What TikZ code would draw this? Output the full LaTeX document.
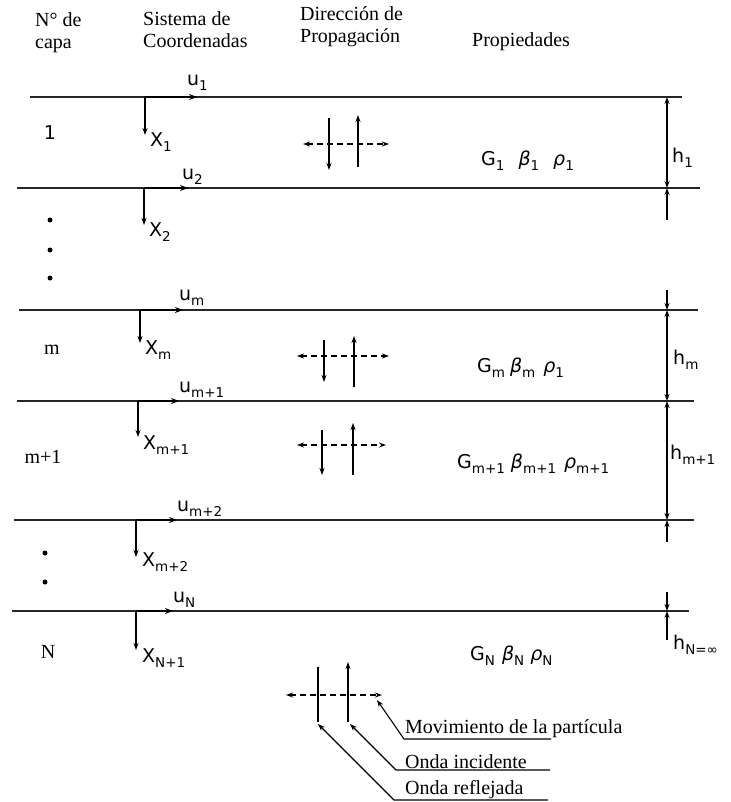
\documentclass[tikz,border=0pt]{standalone}
\usepackage{fontspec}
\setmainfont{Liberation Serif}
\setsansfont{DejaVu Sans}
\usetikzlibrary{arrows.meta}
\newcommand\sublab[2]{#1\raisebox{-0.5ex}{\fontsize{13.5}{13.5}\selectfont #2}}
\tikzset{
  tip/.tip={Stealth[length=7pt,width=5pt]},
  layer/.style={line width=1.7pt, draw=black!85},
  xaxis/.style={line width=1.4pt, -tip},
  uaxis/.style={line width=2.4pt, -{Stealth[length=8pt,width=6pt]}},
  dimarr/.style={line width=1.4pt, tip-tip},
  tickarr/.style={line width=1.4pt, -tip},
  lbl/.style={font=\sffamily\fontsize{19}{22}\selectfont, inner sep=0pt},
  ser/.style={font=\fontsize{20}{22}\selectfont, inner sep=0pt, align=left},
  dashh/.style={line width=1.3pt, dash pattern=on 6pt off 4pt, tip-tip},
  vline/.style={line width=1.3pt, -tip},
  leader/.style={line width=1.1pt, {Stealth[length=7pt,width=5pt]}-}
}
\begin{document}
\begin{tikzpicture}[x=1pt,y=-1pt]
\useasboundingbox (0,0) rectangle (730,802);
% headers
\node[ser,anchor=west] (hcapa) at (35,33) {N° de\\capa};
\node[ser,anchor=west] (hsis) at (143,30) {Sistema de\\Coordenadas};
\node[ser,anchor=west] (hdir) at (300,27) {Dirección de\\Propagación};
\node[ser,anchor=west] (hprop) at (472,42) {Propiedades};
% layer lines
\draw[layer] (30,97) -- (682,97);
\draw[layer] (17,188) -- (700,188);
\draw[layer] (19,310) -- (698,310);
\draw[layer] (17,401) -- (694,401);
\draw[layer] (14,520) -- (694,520);
\draw[layer] (12,611) -- (689,611);
% axes
\foreach \x/\y/\xe/\yd in {145/97/197/135, 144/188/188/225, 140/310/183/343, 138/401/179/437, 136/520/177/557, 136/611/173/650}{
  \draw[uaxis] (\x,\y) -- (\xe,\y);
  \draw[xaxis] (\x,\y) -- (\x,\yd);
}
\node[lbl,anchor=west] (u1) at (187,83) {\sublab{u}{1}};
\node[lbl,anchor=west] (u2) at (182,177) {\sublab{u}{2}};
\node[lbl,anchor=west] (um) at (179,298) {\sublab{u}{m}};
\node[lbl,anchor=west] (um1) at (179,390) {\sublab{u}{m+1}};
\node[lbl,anchor=west] (um2) at (177,509) {\sublab{u}{m+2}};
\node[lbl,anchor=west] (uN) at (173,600) {\sublab{u}{N}};
\node[lbl,anchor=west] (x1) at (150,142) {\sublab{X}{1}};
\node[lbl,anchor=west] (x2) at (149,232) {\sublab{X}{2}};
\node[lbl,anchor=west] (xm) at (145,350) {\sublab{X}{m}};
\node[lbl,anchor=west] (xm1) at (143,445) {\sublab{X}{m+1}};
\node[lbl,anchor=west] (xm2) at (142,562) {\sublab{X}{m+2}};
\node[lbl,anchor=west] (xN) at (142,658) {\sublab{X}{N+1}};
% layer numbers
\node[lbl] (n1) at (50,133) {1};
\node[ser] (nm) at (52,350) {m};
\node[ser] (nm1) at (43,457) {m+1};
\node[ser] (nN) at (48,652) {N};
\foreach \x/\y in {50/220, 50/250, 50/278, 45/553, 45/582}
  \fill (\x,\y) circle (2.5pt);
% propagation
\draw[dashh] (303,144) -- (389,144);
\draw[vline] (329,118) -- (329,170);
\draw[vline] (358,167) -- (358,115);
\draw[dashh] (297,356) -- (389,356);
\draw[vline] (324,340) -- (324,382);
\draw[vline] (354,387) -- (354,336);
\draw[dashh] (297,445) -- (386,445);
\draw[vline] (322,430) -- (322,475);
\draw[vline] (353,475) -- (353,423);
% properties
\node[lbl,anchor=west] (p1) at (481,161) {\sublab{G}{1}\hspace{14pt}\sublab{\textit{β}}{1}\hspace{14pt}\sublab{\textit{ρ}}{1}};
\node[lbl,anchor=west] (pm) at (477,368) {\sublab{G}{m}\hspace{5pt}\sublab{\textit{β}}{m}\hspace{8pt}\sublab{\textit{ρ}}{1}};
\node[lbl,anchor=west] (pm1) at (457,464) {\sublab{G}{m+1}\hspace{6pt}\sublab{\textit{β}}{m+1}\hspace{8pt}\sublab{\textit{ρ}}{m+1}};
\node[lbl,anchor=west] (pN) at (470,656) {\sublab{G}{N}\hspace{7pt}\sublab{\textit{β}}{N}\hspace{6pt}\sublab{\textit{ρ}}{N}};
% thickness dimensions
\draw[dimarr] (667,97) -- (667,188);
\draw[tickarr] (667,220) -- (667,188);
\draw[tickarr] (667,290) -- (667,310);
\draw[dimarr] (667,310) -- (667,401);
\draw[dimarr] (667,401) -- (667,520);
\draw[tickarr] (667,542) -- (667,520);
\draw[tickarr] (667,592) -- (667,611);
\draw[tickarr] (667,640) -- (667,611);
\node[lbl,anchor=west] (h1) at (672,158) {\sublab{h}{1}};
\node[lbl,anchor=west] (hm) at (673,360) {\sublab{h}{m}};
\node[lbl,anchor=west] (hm1) at (670,455) {\sublab{h}{m+1}};
\node[lbl,anchor=west] (hN) at (673,645) {\sublab{h}{N=∞}};
% legend
\draw[dashh] (286,695) -- (382,695);
\draw[line width=1.3pt] (318,667) -- (318,722);
\draw[vline] (348,722) -- (348,662);
\coordinate (lr) at (318,724);
\coordinate (li) at (350,724);
\coordinate (lm) at (377,700);
\draw[leader] (lr) -- (394,800) -- (548,800);
\draw[leader] (li) -- (396,770) -- (550,770);
\draw[leader] (lm) -- (404,739) -- (551,739);
\node[ser,anchor=south west,inner sep=1pt] (tm) at (404,739) {Movimiento de la partícula};
\node[ser,anchor=south west,inner sep=1pt] (ti) at (404,770) {Onda incidente};
\node[ser,anchor=south west,inner sep=1pt] (tr) at (404,800) {Onda reflejada};
\end{tikzpicture}
\end{document}
